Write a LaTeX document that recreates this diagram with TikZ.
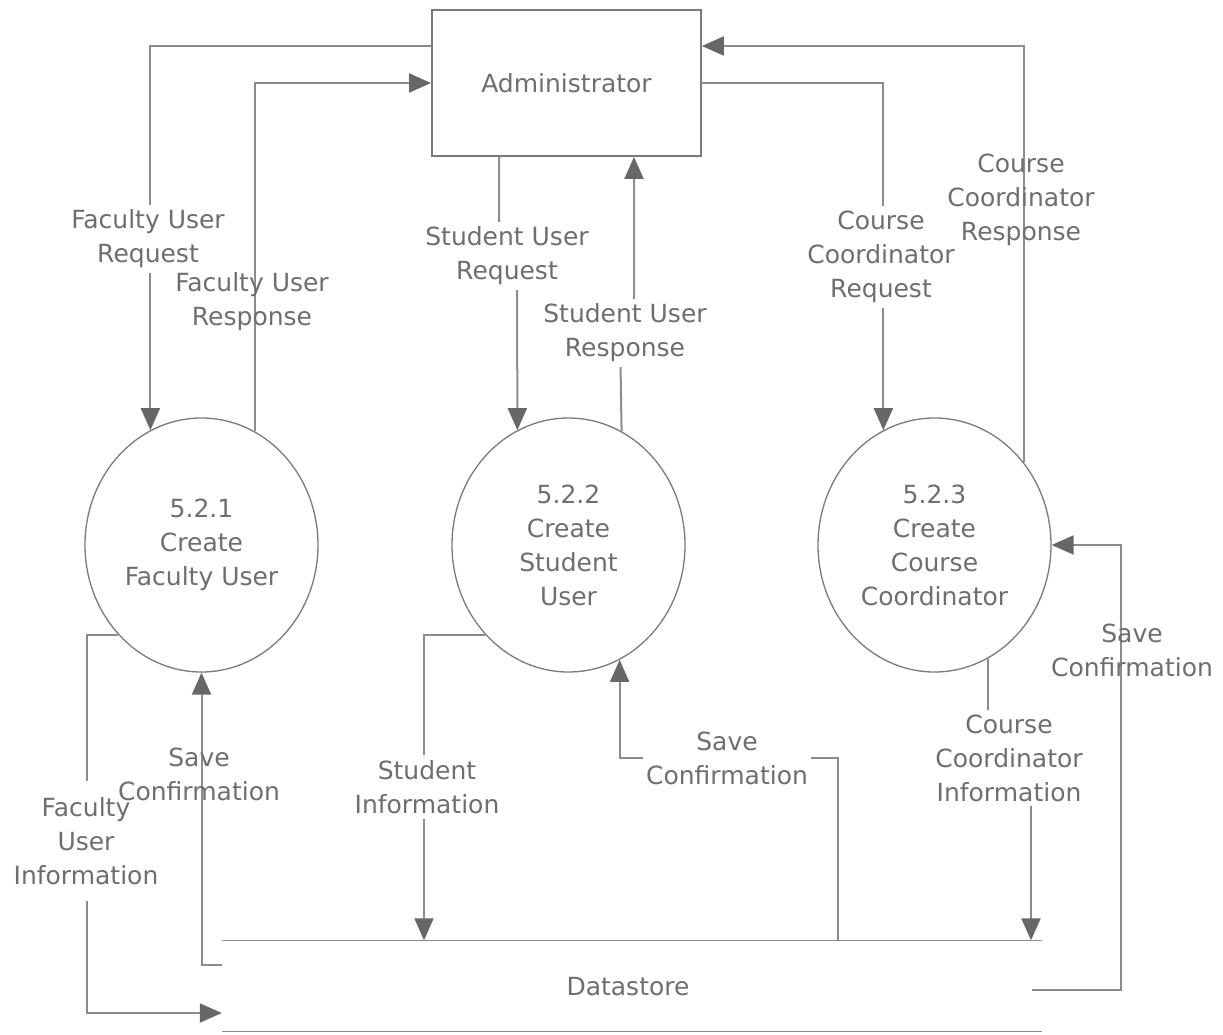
\documentclass[tikz,border=0pt]{standalone}
\usepackage{fontspec}
\setmainfont{DejaVu Sans}
\usetikzlibrary{arrows.meta,shapes.geometric,calc}
\definecolor{linec}{HTML}{8C8C8C}
\definecolor{tipc}{HTML}{676767}
\definecolor{txtc}{HTML}{6E6E6E}
\definecolor{shapec}{HTML}{7A7A7A}
\begin{document}
\begin{tikzpicture}[x=1pt,y=-1pt,
  font=\fontsize{25}{34}\selectfont,
  box/.style={draw=shapec, line width=1.8pt, minimum width=269pt, minimum height=146pt, inner sep=0pt, text=txtc},
  proc/.style={ellipse, draw=shapec, line width=1.3pt, minimum width=233pt, minimum height=254pt, inner sep=0pt, align=center, text=txtc},
  store/.style={minimum width=820pt, minimum height=91pt, inner sep=0pt, text=txtc},
  flow/.style={draw=linec, line width=2pt, -{Triangle[length=22pt,width=19pt,fill=tipc,color=tipc]}},
  plain/.style={draw=linec, line width=2pt},
  lab/.style={align=center, inner xsep=3pt, inner ysep=5pt, text=txtc},
  labf/.style={lab, fill=white}]
\useasboundingbox (0,0) rectangle (1223,1034);

% main nodes
\node[box] (admin) at (566.5,83) {Administrator};
\node[proc] (p1) at (201.5,545) {5.2.1\\Create\\Faculty User};
\node[proc] (p2) at (568.5,545) {5.2.2\\Create\\Student\\User};
\node[proc] (p3) at (934.5,545) {5.2.3\\Create\\Course\\Coordinator};
\node[store] (ds) at (632,986) {};
\node[text=txtc] (dslab) at (628,987) {Datastore};
\draw[plain, line width=1.5pt] (ds.north west) -- (ds.north east);
\draw[plain, line width=1.5pt] (ds.south west) -- (ds.south east);

% connector bend coordinates
\coordinate (c1) at (499,255);
\coordinate (c2) at (620,333);
\coordinate (c3) at (87,841);
\coordinate (c4) at (727,758);
\coordinate (c5) at (1009,758);
\coordinate (c6) at (1121,767);

% connectors
\draw[flow] (admin.west |- 0,46) -| (p1.114.3);
\draw[flow] (p1.65.7) |- (admin.west |- 0,83);
\draw[flow] (admin.south -| 499,0) -- (c1) -- (517,255) -- (p2.114.3);
\draw[flow] (p2.65.7) -- (c2) -| (admin.south -| 634,0);
\draw[flow] (admin.east |- 0,83) -| (p3.114.3);
\draw[flow] (p3.43.8) |- (admin.east |- 0,46);
\draw[flow] (p1.227.1) -| (c3) |- (ds.west |- 0,1013);
\draw[flow] (ds.west |- 0,965) -| (p1.south);
\draw[flow] (p2.227.8) -| (ds.north -| 424,0);
\draw[flow] (ds.north -| 838,0) |- (c4) -| (p2.294.3);
\draw[flow] (p3.295.4) |- (c5) -| (ds.north -| 1031,0);
\draw[flow] ($(ds.east)+(-10,4)$) -| (c6) |- (p3.east);

% labels that break their lines
\node[labf] (l1) at (148,239) {Faculty User\\Request};
\node[labf] (l3) at (507,256) {Student User\\Request};
\node[labf] (l4) at (625,333) {Student User\\Response};
\node[labf] (l5) at (881,257) {Course\\Coordinator\\Request};
\node[labf, minimum height=120pt] (l7) at (86,841) {Faculty\\User\\Information};
\node[labf] (l9) at (427,787) {Student\\Information};
\node[labf] (l10) at (727,758) {Save\\Confirmation};
\node[labf] (l11) at (1009,758) {Course\\Coordinator\\Information};

% labels the lines run through
\node[lab] (l2) at (252,302) {Faculty User\\Response};
\node[lab] (l6) at (1021,200) {Course\\Coordinator\\Response};
\node[lab] (l8) at (199,774) {Save\\Confirmation};
\node[lab] (l12) at (1132,650) {Save\\Confirmation};
\end{tikzpicture}
\end{document}
